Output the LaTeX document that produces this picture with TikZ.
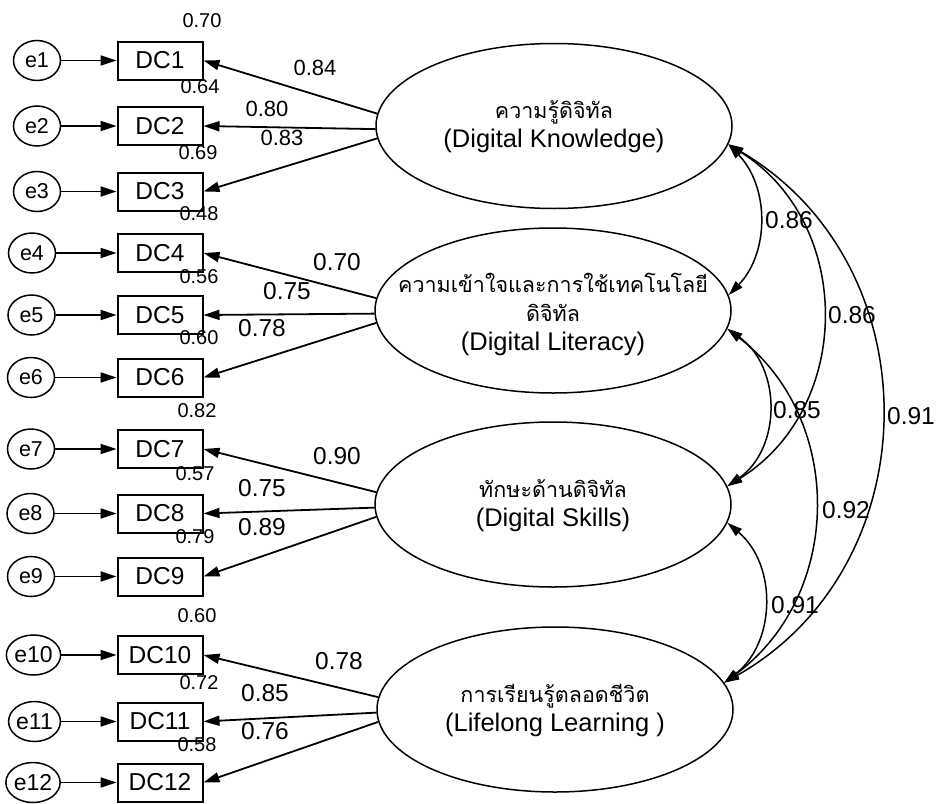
\documentclass[tikz,border=0pt]{standalone}
\usepackage{fontspec}
\setmainfont{Liberation Sans}
\newfontfamily\thaifont[Script=Thai]{Loma}
\usetikzlibrary{shapes.geometric,arrows.meta}
\newcommand{\thailine}[1]{{\thaifont\fontsize{21.5}{29}\selectfont #1}}

\begin{document}
\begin{tikzpicture}[x=1pt,y=-1pt,
  obs/.style={draw,line width=2pt,minimum width=85pt,minimum height=38pt,inner sep=0pt,
    font=\fontsize{24.5}{28}\selectfont},
  err/.style={draw,ellipse,line width=1.5pt,minimum width=47pt,minimum height=40pt,inner sep=0pt,
    font=\fontsize{21.5}{24}\selectfont},
  errwide/.style={err,font=\fontsize{23}{26}\selectfont},
  lat/.style={draw,ellipse,line width=1.5pt,minimum width=356pt,minimum height=165pt,inner sep=0pt},
  lattext/.style={align=center,inner sep=0pt,font=\fontsize{25.5}{29}\selectfont},
  loadarrow/.style={line width=1.8pt,-{Triangle[length=16pt,width=10pt]}},
  covarc/.style={line width=1.5pt,{Triangle[length=15pt,width=9pt]}-{Triangle[length=15pt,width=9pt]}},
  varlab/.style={inner sep=0pt,font=\fontsize{20}{24}\selectfont},
  ldlab/.style={inner sep=0pt,font=\fontsize{24.5}{28}\selectfont},
  ldsmall/.style={inner sep=0pt,font=\fontsize{22}{26}\selectfont},
]
\useasboundingbox (0,0) rectangle (939,803);

% observed indicators and their error terms
\foreach \i/\y/\ex in {1/60.5/37, 2/126/37, 3/191.5/37, 4/253/32, 5/315/31.5, 6/377.5/31,
                       7/449/31, 8/513.5/30.5, 9/576.5/31} {
  \node[obs] (DC\i) at (160,\y) {DC\i};
  \node[err] (e\i) at (\ex,\y) {e\i};
  \draw[loadarrow] (e\i) -- (DC\i);
}
\foreach \i/\y/\ex in {10/655/33.5, 11/721.5/34.5, 12/782.5/33} {
  \node[obs] (DC\i) at (160,\y) {DC\i};
  \node[errwide] (e\i) at (\ex,\y) {e\i};
  \draw[loadarrow] (e\i) -- (DC\i);
}

% latent factors
\node[lat] (E1) at (554,126) {};
\node[lattext] (T1) at (554,127) {\thailine{ความรู้ดิจิทัล}\\(Digital Knowledge)};
\node[lat] (E2) at (553,310.5) {};
\node[lattext] (T2) at (553,314) {\thailine{ความเข้าใจและการใช้เทคโนโลยี}\\\thailine{ดิจิทัล}\\(Digital Literacy)};
\node[lat] (E3) at (553,504.5) {};
\node[lattext] (T3) at (553,506) {\thailine{ทักษะด้านดิจิทัล}\\(Digital Skills)};
\node[lat] (E4) at (555,709.5) {};
\node[lattext] (T4) at (555,711) {\thailine{การเรียนรู้ตลอดชีวิต}\\(Lifelong Learning )};

% factor loadings
\foreach \L/\a/\b/\c in {E1/DC1/DC2/DC3, E2/DC4/DC5/DC6, E3/DC7/DC8/DC9, E4/DC10/DC11/DC12} {
  \draw[loadarrow] (\L.176.3) -- (\a.east);
  \draw[loadarrow] (\L.181) -- (\b.east);
  \draw[loadarrow] (\L.184.5) -- (\c.east);
}

% loading values
\node[ldsmall] (l1) at (315,68) {0.84};
\node[ldsmall] (l2) at (267,109) {0.80};
\node[ldsmall] (l3) at (282,138) {0.83};
\node[ldlab] (l4) at (337,262) {0.70};
\node[ldlab] (l5) at (287,291) {0.75};
\node[ldlab] (l6) at (262,328) {0.78};
\node[ldlab] (l7) at (337,456) {0.90};
\node[ldlab] (l8) at (262,488) {0.75};
\node[ldlab] (l9) at (262,527) {0.89};
\node[ldlab] (l10) at (339,661) {0.78};
\node[ldlab] (l11) at (265,693) {0.85};
\node[ldlab] (l12) at (265,731) {0.76};

% squared multiple correlations
\foreach \v/\x/\y [count=\k] in {0.70/202/21, 0.64/200/87, 0.69/198/153, 0.48/199/214,
    0.56/199/277, 0.60/199/338, 0.82/197/411, 0.57/195/474, 0.79/195/537,
    0.60/197/616, 0.72/199/683, 0.58/197/745} {
  \node[varlab] (r\k) at (\x,\y) {\v};
}

% factor correlations
\draw[covarc] (E1.354) to[bend left=44] (E2.5.7);
\draw[covarc] (E1.354) to[bend left=58,looseness=1.11] (E3.6.4);
\draw[covarc] (E1.354) to[bend left=60,looseness=1.13] (E4.9);
\draw[covarc] (E2.-6.4) to[bend left=55,looseness=1.08] (E3.6.4);
\draw[covarc] (E2.-6.4) to[bend left=53,looseness=1.07] (E4.9);
\draw[covarc] (E3.-6) to[bend left=51,looseness=1.045] (E4.9);

\node[ldlab] (c1) at (789,220) {0.86};
\node[ldlab] (c2) at (852,315) {0.86};
\node[ldlab] (c3) at (797,410) {0.85};
\node[ldlab] (c4) at (911,416) {0.91};
\node[ldlab] (c5) at (846,510) {0.92};
\node[ldlab] (c6) at (795,605) {0.91};
\end{tikzpicture}
\end{document}
